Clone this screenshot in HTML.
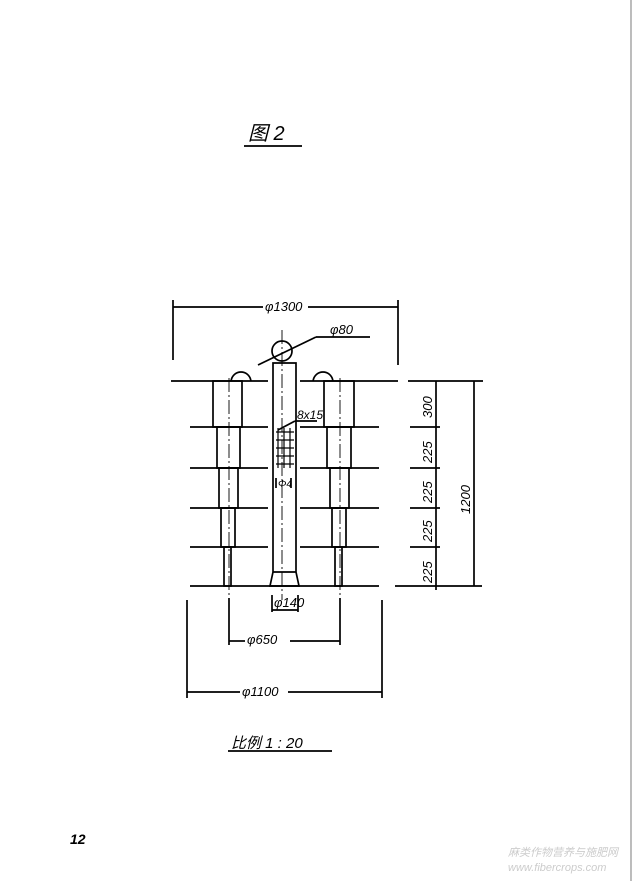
<!DOCTYPE html>
<html><head><meta charset="utf-8"><style>
html,body{margin:0;padding:0;background:#fff}
svg{display:block}
text{font-family:"Liberation Sans","Noto Sans CJK SC",sans-serif;font-style:italic;fill:#000}
</style></head><body>
<svg width="632" height="881" viewBox="0 0 632 881" xmlns="http://www.w3.org/2000/svg">
<line x1="631" y1="0" x2="631" y2="881" stroke="#999" stroke-width="1.3"/>
<g stroke="#000" stroke-width="1.7" fill="none">
<line x1="244" y1="146" x2="302" y2="146"/>
<line x1="173" y1="307" x2="263" y2="307"/><line x1="308" y1="307" x2="398" y2="307"/>
<line x1="173" y1="300" x2="173" y2="360"/><line x1="398" y1="300" x2="398" y2="365"/>
<line x1="258" y1="365" x2="316" y2="337"/><line x1="316" y1="337" x2="370" y2="337"/>
<circle cx="282" cy="351" r="10"/>
<line x1="282" y1="330" x2="282" y2="600" stroke-dasharray="14,3,2,3" stroke-width="0.9"/>
<line x1="171" y1="381" x2="268" y2="381"/><line x1="300" y1="381" x2="398" y2="381"/>
<line x1="190" y1="427" x2="268" y2="427"/><line x1="300" y1="427" x2="379" y2="427"/>
<line x1="190" y1="468" x2="268" y2="468"/><line x1="300" y1="468" x2="379" y2="468"/>
<line x1="190" y1="508" x2="268" y2="508"/><line x1="300" y1="508" x2="379" y2="508"/>
<line x1="190" y1="547" x2="268" y2="547"/><line x1="300" y1="547" x2="379" y2="547"/>
<line x1="190" y1="586" x2="379" y2="586"/>
<path d="M273 363 H296 V572 L299 586 H270 L273 572 Z"/>
<line x1="273" y1="572" x2="296" y2="572"/>
<g stroke-width="1.2">
<line x1="276" y1="432" x2="294" y2="432"/><line x1="276" y1="440" x2="294" y2="440"/><line x1="276" y1="448" x2="294" y2="448"/><line x1="276" y1="456" x2="294" y2="456"/><line x1="276" y1="464" x2="294" y2="464"/>
<line x1="278" y1="428" x2="278" y2="468"/><line x1="284" y1="428" x2="284" y2="468"/><line x1="290" y1="428" x2="290" y2="468"/>
</g>
<line x1="278" y1="430" x2="295" y2="421"/><line x1="295" y1="421" x2="317" y2="421"/>
<line x1="276" y1="478" x2="276" y2="488"/><line x1="291" y1="478" x2="291" y2="488"/>
<path d="M231 381 C233 369 249 369 251 381"/>
<rect x="213" y="381" width="29" height="46"/>
<rect x="217" y="427" width="23" height="41"/>
<rect x="219" y="468" width="19" height="40"/>
<rect x="221" y="508" width="14" height="39"/>
<rect x="224" y="547" width="7" height="39"/>
<line x1="229" y1="378" x2="229" y2="595" stroke-dasharray="14,3,2,3" stroke-width="0.9"/>
<path d="M313 381 C315 369 331 369 333 381"/>
<rect x="324" y="381" width="30" height="46"/>
<rect x="327" y="427" width="24" height="41"/>
<rect x="330" y="468" width="19" height="40"/>
<rect x="332" y="508" width="14" height="39"/>
<rect x="335" y="547" width="7" height="39"/>
<line x1="340" y1="378" x2="340" y2="595" stroke-dasharray="14,3,2,3" stroke-width="0.9"/>
<line x1="408" y1="381" x2="483" y2="381"/>
<line x1="410" y1="427" x2="440" y2="427"/><line x1="410" y1="468" x2="440" y2="468"/><line x1="410" y1="508" x2="440" y2="508"/><line x1="410" y1="547" x2="440" y2="547"/>
<line x1="395" y1="586" x2="482" y2="586"/>
<line x1="436" y1="381" x2="436" y2="590"/>
<line x1="474" y1="381" x2="474" y2="586"/>
<line x1="272" y1="595" x2="272" y2="612"/><line x1="298" y1="595" x2="298" y2="612"/>
<line x1="272" y1="610" x2="298" y2="610"/>
<line x1="229" y1="598" x2="229" y2="645"/><line x1="340" y1="598" x2="340" y2="645"/>
<line x1="229" y1="641" x2="245" y2="641"/><line x1="290" y1="641" x2="340" y2="641"/>
<line x1="187" y1="600" x2="187" y2="698"/><line x1="382" y1="600" x2="382" y2="698"/>
<line x1="187" y1="692" x2="240" y2="692"/><line x1="288" y1="692" x2="382" y2="692"/>
<line x1="228" y1="751" x2="332" y2="751"/>
</g>
<text x="248" y="140" font-size="20">图  2</text>
<text x="265" y="311" font-size="13">φ1300</text>
<text x="330" y="334" font-size="13">φ80</text>
<text x="297" y="419" font-size="12">8x15</text>
<text x="278" y="487" font-size="10">Φ4</text>
<text x="274" y="607" font-size="13">φ140</text>
<text x="247" y="644" font-size="13">φ650</text>
<text x="242" y="696" font-size="13">φ1100</text>
<g font-size="13">
<text transform="translate(432,418) rotate(-90)">300</text>
<text transform="translate(432,463) rotate(-90)">225</text>
<text transform="translate(432,503) rotate(-90)">225</text>
<text transform="translate(432,542) rotate(-90)">225</text>
<text transform="translate(432,583) rotate(-90)">225</text>
<text transform="translate(470,514) rotate(-90)">1200</text>
</g>
<text x="231" y="748" font-size="15">比例  1 : 20</text>
<text x="70" y="844" font-size="14" font-weight="bold" font-style="normal">12</text>
<text x="508" y="856" font-size="11" font-style="normal" style="fill:#ccc">麻类作物营养与施肥网</text>
<text x="508" y="871" font-size="11" font-style="normal" style="fill:#ccc">www.fibercrops.com</text>
</svg>
</body></html>
